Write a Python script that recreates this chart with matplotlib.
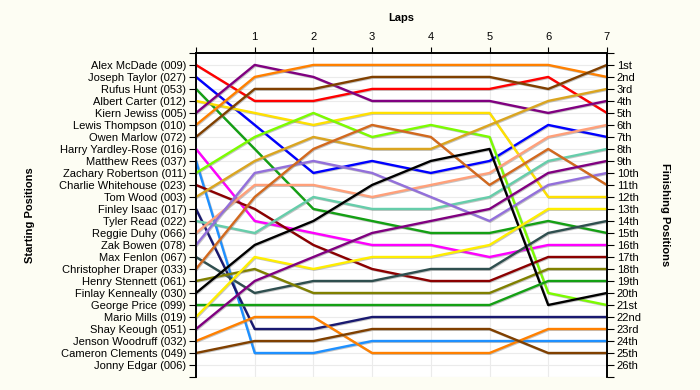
import matplotlib
matplotlib.use("Agg")
import matplotlib.pyplot as plt
import matplotlib.patheffects as pe

plt.rcParams['font.family'] = ['Liberation Sans', 'DejaVu Sans']

drivers = ["Alex McDade (009)", "Joseph Taylor (027)", "Rufus Hunt (053)", "Albert Carter (012)",
           "Kiern Jewiss (005)", "Lewis Thompson (010)", "Owen Marlow (072)", "Harry Yardley-Rose (016)",
           "Matthew Rees (037)", "Zachary Robertson (011)", "Charlie Whitehouse (023)", "Tom Wood (003)",
           "Finley Isaac (017)", "Tyler Read (022)", "Reggie Duhy (066)", "Zak Bowen (078)",
           "Max Fenlon (067)", "Christopher Draper (033)", "Henry Stennett (061)", "Finlay Kenneally (030)",
           "George Price (099)", "Mario Mills (019)", "Shay Keough (051)", "Jenson Woodruff (032)",
           "Cameron Clements (049)", "Jonny Edgar (006)"]

finish_labels = ["1st", "2nd", "3rd", "4th", "5th", "6th", "7th", "8th", "9th", "10th", "11th", "12th",
                 "13th", "14th", "15th", "16th", "17th", "18th", "19th", "20th", "21st", "22nd", "23rd",
                 "24th", "25th", "26th"]

laps = [0, 1, 2, 3, 4, 5, 6, 7]

# positions of each driver (in starting order) at the end of each lap
lap1 = [4, 6, 8, 5, 1, 2, 3, 14, 25, 7, 13, 9, 23, 15, 11, 10, 20, 12, 18, 16, 21, 17, 19, 22, 24]
lap2 = [4, 10, 13, 6, 2, 1, 3, 15, 25, 5, 16, 7, 23, 12, 11, 9, 19, 8, 20, 14, 21, 18, 17, 22, 24]
lap3 = [3, 9, 14, 5, 4, 1, 2, 16, 24, 7, 18, 8, 22, 13, 12, 10, 19, 6, 20, 11, 21, 17, 15, 25, 23]
lap4 = [3, 10, 15, 5, 4, 1, 2, 16, 24, 6, 19, 8, 22, 13, 11, 12, 18, 7, 20, 9, 21, 17, 14, 25, 23]
lap5 = [3, 9, 15, 5, 4, 1, 2, 17, 24, 7, 19, 6, 22, 12, 10, 14, 18, 11, 20, 8, 21, 16, 13, 25, 23]
lap6 = [2, 6, 14, 12, 5, 1, 3, 16, 24, 20, 17, 4, 22, 9, 7, 11, 15, 8, 18, 21, 19, 13, 10, 23, 25]
lap7 = [5, 7, 15, 12, 4, 2, 1, 16, 24, 21, 17, 3, 22, 8, 6, 10, 14, 11, 18, 20, 19, 13, 9, 23, 25]

colors = ["#FF0000", "#0000FF", "#14A014", "#FFE000", "#800080", "#FF8000", "#804000", "#FF00FF",
          "#1E90FF", "#7CFC00", "#8B0000", "#DAA520", "#191970", "#66CDAA", "#FFA07A", "#9370DB",
          "#2F4F4F", "#D2691E", "#808000", "#000000", "#14A014", "#FFEE00", "#800080", "#FF8000",
          "#804000"]

fig = plt.figure(figsize=(7, 3.9), dpi=100, facecolor="#FDFDF3")
ax = fig.add_axes([0.28, 0.0333, 0.587, 0.831])
ax.set_facecolor("white")

all_laps = [lap1, lap2, lap3, lap4, lap5, lap6, lap7]
for i, col in enumerate(colors):
    ys = [i + 1] + [lp[i] for lp in all_laps]
    ax.plot(laps, ys, color=col, lw=1.7, zorder=3,
            path_effects=[pe.SimpleLineShadow(offset=(0.6, -0.6), shadow_color='#808080', alpha=0.45),
                          pe.Normal()])

ax.set_xlim(0, 7)
ax.set_ylim(27, 0)

ax.xaxis.tick_top()
ax.set_xticks(laps)
ax.set_xticklabels([""] + [str(l) for l in laps[1:]], fontsize=8)
ax.tick_params(axis='x', direction='out', length=4, pad=4)

yt = list(range(0, 28))
ax.set_yticks(yt)
ax.set_yticklabels([""] + drivers + [""], fontsize=8)
ax.tick_params(axis='y', direction='out', length=5, pad=2)

ax2 = ax.twinx()
ax2.set_ylim(27, 0)
ax2.set_yticks(yt)
ax2.set_yticklabels([""] + finish_labels + [""], fontsize=8)
ax2.tick_params(axis='y', direction='out', length=5, pad=2)

for a in (ax, ax2):
    a.spines['bottom'].set_visible(False)
    for s in ('top', 'left', 'right'):
        a.spines[s].set_color('black')
        a.spines[s].set_linewidth(1.2)

ax.grid(True, color="#EBEBEB", lw=0.8, zorder=0)
ax.set_axisbelow(True)

fig.text(0.5 * (0.28 + 0.867), 1 - 18 / 390, "Laps", ha='center', va='center', fontsize=8, fontweight='bold')
fig.text(30 / 700, 0.449, "Starting Positions", rotation=90, ha='center', va='center',
         fontsize=8, fontweight='bold')
fig.text(665 / 700, 0.449, "Finishing Positions", rotation=270, ha='center', va='center',
         fontsize=8, fontweight='bold')

fig.savefig("out.png", dpi=100, facecolor=fig.get_facecolor())
